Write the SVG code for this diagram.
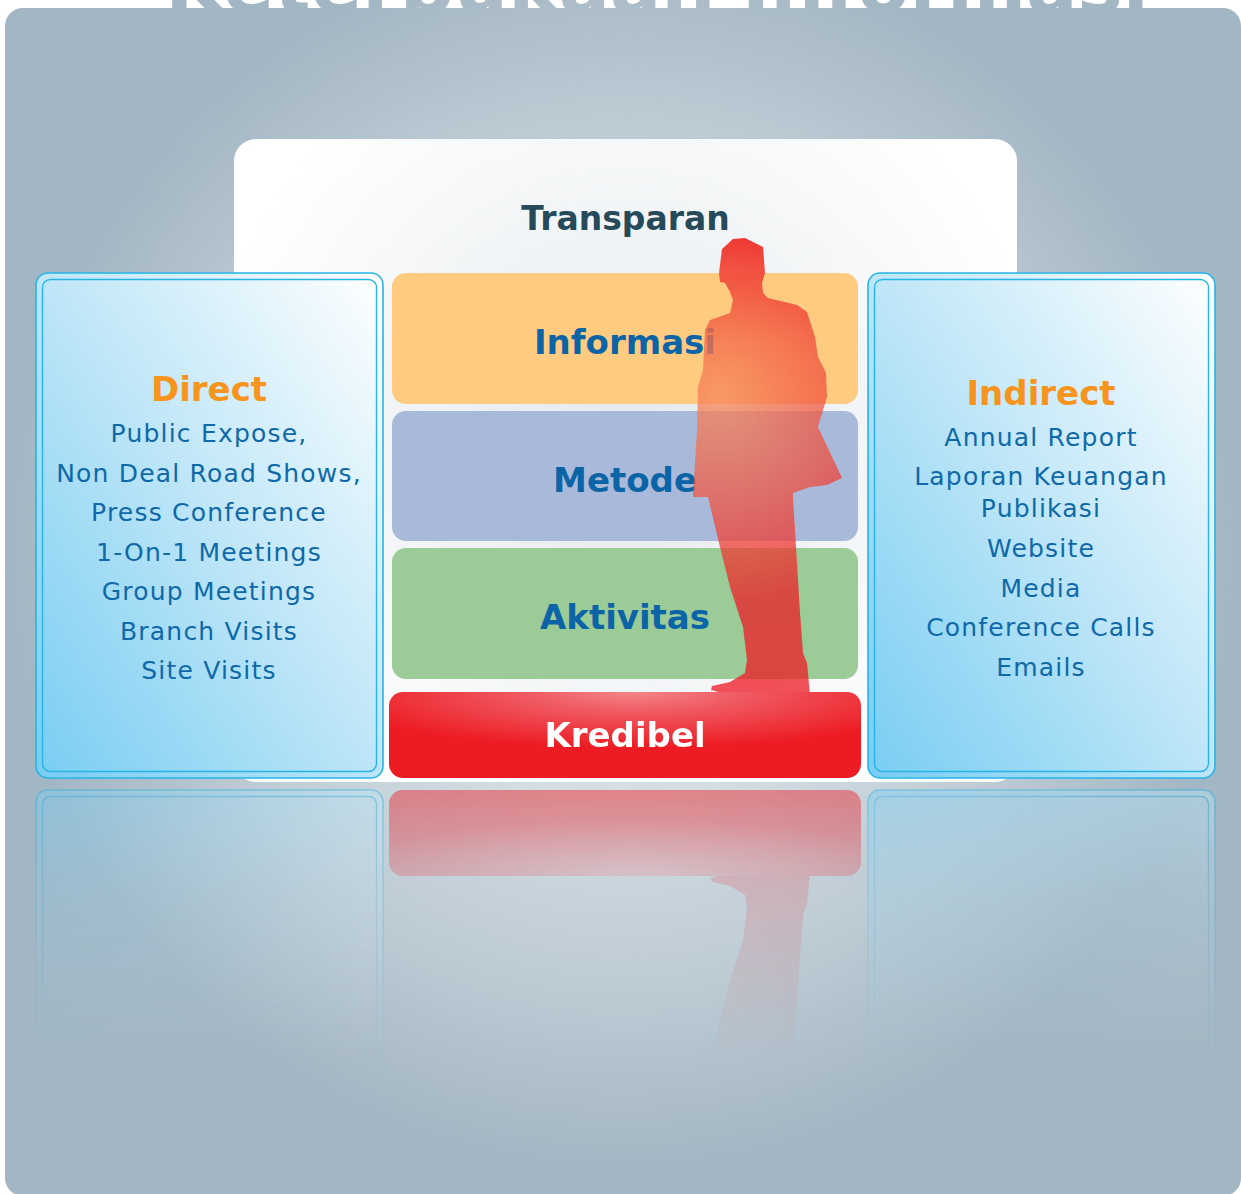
<svg xmlns="http://www.w3.org/2000/svg" xmlns:xlink="http://www.w3.org/1999/xlink" width="1241" height="1194" viewBox="0 0 1241 1194">
  <style>
    .head { font-family: "DejaVu Sans", "Liberation Sans", sans-serif; font-weight: bold; text-anchor: middle; }
    .bar-label { font-size: 34px; fill: #0b64a6; }
    .side-title { font-size: 34px; fill: #f7941d; }
    .item { font-family: "DejaVu Sans", "Liberation Sans", sans-serif; font-size: 25px; letter-spacing: 1.2px; fill: #0f69a8; text-anchor: middle; }
    .frame-outer { stroke: #27b4e8; stroke-width: 1.6; }
    .frame-inner { fill: none; stroke: #27b4e8; stroke-width: 1.4; }
  </style>
  <defs>
    <radialGradient id="stage" gradientUnits="userSpaceOnUse" cx="622" cy="555" r="615">
      <stop offset="0" stop-color="#e4ebef"/>
      <stop offset="0.4" stop-color="#d3dde3"/>
      <stop offset="0.7" stop-color="#bdcbd4"/>
      <stop offset="1" stop-color="#a3b6c3"/>
    </radialGradient>
    <radialGradient id="card" gradientUnits="userSpaceOnUse" cx="625" cy="440" r="430">
      <stop offset="0" stop-color="#e3e9ed"/>
      <stop offset="1" stop-color="#ffffff"/>
    </radialGradient>
    <linearGradient id="sky" x1="0" y1="1" x2="1" y2="0">
      <stop offset="0" stop-color="#78cdf2"/>
      <stop offset="0.55" stop-color="#c4e8f8"/>
      <stop offset="1" stop-color="#ffffff"/>
    </linearGradient>
    <radialGradient id="red-glow" cx="0.52" cy="0" r="0.65">
      <stop offset="0" stop-color="#f3858a"/>
      <stop offset="0.35" stop-color="#f05a62"/>
      <stop offset="1" stop-color="#ed1c24"/>
    </radialGradient>
    <radialGradient id="man-fill" gradientUnits="userSpaceOnUse" cx="720" cy="395" r="210">
      <stop offset="0" stop-color="#f78a5a"/>
      <stop offset="0.6" stop-color="#f04a3a"/>
      <stop offset="1" stop-color="#ee1c26"/>
    </radialGradient>
    <linearGradient id="man-alpha" gradientUnits="userSpaceOnUse" x1="0" y1="238" x2="0" y2="700">
      <stop offset="0" stop-color="#ffffff"/>
      <stop offset="0.13" stop-color="#e8e8e8"/>
      <stop offset="0.22" stop-color="#cccccc"/>
      <stop offset="0.45" stop-color="#b8b8b8"/>
      <stop offset="1" stop-color="#c4c4c4"/>
    </linearGradient>
    <mask id="man-mask" maskUnits="userSpaceOnUse" x="0" y="0" width="1241" height="1194">
      <rect x="0" y="0" width="1241" height="1194" fill="url(#man-alpha)"/>
    </mask>
    <linearGradient id="floor-fade" gradientUnits="userSpaceOnUse" x1="0" y1="784" x2="0" y2="1060">
      <stop offset="0" stop-color="#7a7a7a"/>
      <stop offset="0.4" stop-color="#353535"/>
      <stop offset="1" stop-color="#000000"/>
    </linearGradient>
    <mask id="floor-mask" maskUnits="userSpaceOnUse" x="0" y="784" width="1241" height="410">
      <rect x="0" y="784" width="1241" height="410" fill="url(#floor-fade)"/>
    </mask>

    <!-- reusable shapes -->
    <g id="side-frame">
      <rect class="frame-outer" x="0" y="0" width="347" height="505" rx="12" fill="url(#sky)"/>
      <rect class="frame-inner" x="6.5" y="6.5" width="334" height="492" rx="8"/>
    </g>
    <rect id="kredibel-bar" x="389" y="692" width="472" height="86" rx="14" fill="url(#red-glow)"/>
    <path id="man" d="M722,249 L733,239 L745,238 L763,247 L765,273 L762,283 L763,293 L768,298 L797,305 L807,312 L815,337 L818,357 L826,373 L827,397 L823,410 L818,427 L842,478 L827,485 L810,487 L793,493 L793,497 L797,563 L800,613 L803,653 L807,663 L808,673 L810,697 L722,693 L711,690 L712,686 L730,682 L745,673 L747,660 L743,627 L730,587 L720,547 L708,497 L693,497 L695,463 L697,430 L698,387 L703,370 L705,330 L710,320 L730,313 L733,300 L730,292 L725,283 L720,282 L719,273 Z"/>
  </defs>

  <!-- heading running off the top edge -->
  <g id="title">
    <text class="head" x="657" y="12" font-size="76" fill="url(#stage)">Keterbukaan Informasi</text>
  </g>

  <!-- stage backdrop -->
  <rect id="stage-panel" x="5" y="8" width="1236" height="1188" rx="18" fill="url(#stage)"/>

  <!-- mirrored floor reflection -->
  <g id="reflection" mask="url(#floor-mask)">
    <g transform="matrix(1 0 0 -1 0 1568)">
      <use xlink:href="#side-frame" x="36" y="273"/>
      <use xlink:href="#side-frame" x="868" y="273"/>
      <use xlink:href="#man" fill="url(#man-fill)" opacity="0.75"/>
      <use xlink:href="#kredibel-bar"/>
    </g>
  </g>

  <!-- top card -->
  <g id="transparan">
    <rect x="234" y="139" width="783" height="643" rx="22" fill="url(#card)"/>
    <text class="head" x="625.5" y="230" font-size="33" fill="#264a5a">Transparan</text>
  </g>

  <!-- direct channels -->
  <g id="direct">
    <use xlink:href="#side-frame" x="36" y="273"/>
    <text class="head side-title" x="209" y="401">Direct</text>
    <text class="item" x="209" y="442">Public Expose,</text>
    <text class="item" x="209" y="482">Non Deal Road Shows,</text>
    <text class="item" x="209" y="521">Press Conference</text>
    <text class="item" x="209" y="561">1-On-1 Meetings</text>
    <text class="item" x="209" y="600">Group Meetings</text>
    <text class="item" x="209" y="640">Branch Visits</text>
    <text class="item" x="209" y="679">Site Visits</text>
  </g>

  <!-- indirect channels -->
  <g id="indirect">
    <use xlink:href="#side-frame" x="868" y="273"/>
    <text class="head side-title" x="1041" y="405">Indirect</text>
    <text class="item" x="1041" y="446">Annual Report</text>
    <text class="item" x="1041" y="485">Laporan Keuangan</text>
    <text class="item" x="1041" y="517">Publikasi</text>
    <text class="item" x="1041" y="557">Website</text>
    <text class="item" x="1041" y="597">Media</text>
    <text class="item" x="1041" y="636">Conference Calls</text>
    <text class="item" x="1041" y="676">Emails</text>
  </g>

  <!-- stacked layers -->
  <g id="informasi">
    <rect x="392" y="273" width="466" height="131" rx="14" fill="#fecb80"/>
    <text class="head bar-label" x="625" y="354">Informasi</text>
  </g>
  <g id="metode">
    <rect x="392" y="411" width="466" height="130" rx="14" fill="#a9b9da"/>
    <text class="head bar-label" x="625" y="492">Metode</text>
  </g>
  <g id="aktivitas">
    <rect x="392" y="548" width="466" height="131" rx="14" fill="#9bcb97"/>
    <text class="head bar-label" x="625" y="629">Aktivitas</text>
  </g>

  <!-- standing figure -->
  <g id="figure" mask="url(#man-mask)">
    <use xlink:href="#man" fill="url(#man-fill)"/>
  </g>

  <!-- base layer -->
  <g id="kredibel">
    <use xlink:href="#kredibel-bar"/>
    <text class="head" x="625" y="747" font-size="34" fill="#ffffff">Kredibel</text>
  </g>
</svg>
